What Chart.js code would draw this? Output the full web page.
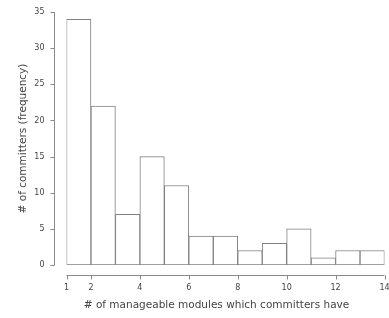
<!DOCTYPE html>
<html>
<head>
<meta charset="utf-8">
<script src="https://cdn.jsdelivr.net/npm/chart.js@4/dist/chart.umd.min.js"></script>
<style>
  html, body { margin: 0; padding: 0; background: #fff; }
  #wrap { width: 389px; height: 318px; }
</style>
</head>
<body>
<div id="wrap"><canvas id="histChart"></canvas></div>
<script>
// histogram bins (left edge of each bin, width 1) and their counts
const binStarts = [1, 2, 3, 4, 5, 6, 7, 8, 9, 10, 11, 12, 13];
const counts = [34, 22, 7, 15, 11, 4, 4, 2, 3, 5, 1, 2, 2];
const xTicks = [1, 2, 4, 6, 8, 10, 12, 14];
const yTicks = [0, 5, 10, 15, 20, 25, 30, 35];
const xTitle = '# of manageable modules which committers have';
const yTitle = '# of committers (frequency)';

const axisColor = '#8a8a8a';
const textColor = '#444';

// R-style axes, detached from the plot region
const detachedAxes = {
    id: 'detachedAxes',
    afterDraw: (chart) => {
        const { ctx, chartArea } = chart;
        const x = chart.scales.x;
        const y = chart.scales.y;
        ctx.save();
        ctx.strokeStyle = axisColor;
        ctx.lineWidth = 1;

        const ax = Math.round(chartArea.left - 13) + 0.5;
        ctx.beginPath();
        ctx.moveTo(ax, y.getPixelForValue(yTicks[0]));
        ctx.lineTo(ax, y.getPixelForValue(yTicks[yTicks.length - 1]));
        yTicks.forEach(v => {
            const py = Math.round(y.getPixelForValue(v)) + 0.5;
            ctx.moveTo(ax, py);
            ctx.lineTo(ax - 4, py);
        });
        ctx.stroke();

        const ay = Math.round(chartArea.bottom + 10) + 0.5;
        ctx.beginPath();
        ctx.moveTo(x.getPixelForValue(xTicks[0]), ay);
        ctx.lineTo(x.getPixelForValue(xTicks[xTicks.length - 1]), ay);
        xTicks.forEach(v => {
            const px = Math.round(x.getPixelForValue(v)) + 0.5;
            ctx.moveTo(px, ay);
            ctx.lineTo(px, ay + 4);
        });
        ctx.stroke();

        // x title sits a little left of the plot centre in the original
        ctx.fillStyle = textColor;
        ctx.font = '10.5px "DejaVu Sans"';
        ctx.textAlign = 'center';
        ctx.textBaseline = 'middle';
        ctx.fillText(xTitle, (chartArea.left + chartArea.right) / 2 - 9, 305);
        ctx.restore();
    }
};

new Chart(document.getElementById('histChart'), {
    type: 'bar',
    plugins: [detachedAxes],
    data: {
        datasets: [{
            data: binStarts.map((s, i) => ({ x: s + 0.5, y: counts[i] })),
            backgroundColor: '#ffffff',
            borderColor: '#808080',
            borderWidth: 1,
            borderSkipped: false,
            barPercentage: 1,
            categoryPercentage: 1
        }]
    },
    options: {
        responsive: true,
        maintainAspectRatio: false,
        animation: false,
        layout: { padding: { top: 12, right: 4.5, bottom: 0, left: 0 } },
        plugins: {
            legend: { display: false },
            tooltip: { enabled: false }
        },
        scales: {
            x: {
                type: 'linear',
                min: 1,
                max: 14,
                offset: false,
                afterBuildTicks: (scale) => { scale.ticks = xTicks.map(v => ({ value: v })); },
                afterFit: (scale) => {
                    scale.height = 53;
                    scale.paddingLeft = 0;
                    scale.paddingRight = 0;
                },
                grid: { display: false, drawTicks: false, offset: false },
                border: { display: false },
                ticks: {
                    autoSkip: false,
                    maxRotation: 0,
                    padding: 18,
                    color: textColor,
                    font: { family: 'DejaVu Sans', size: 8 }
                },
                title: { display: false }
            },
            y: {
                min: 0,
                max: 35,
                afterBuildTicks: (scale) => { scale.ticks = yTicks.map(v => ({ value: v })); },
                afterFit: (scale) => {
                    scale.width = 66.5;
                    scale.paddingTop = 0;
                    scale.paddingBottom = 0;
                },
                grid: { display: false, drawTicks: false },
                border: { display: false },
                ticks: {
                    padding: 22,
                    color: textColor,
                    font: { family: 'DejaVu Sans', size: 8 }
                },
                title: {
                    display: true,
                    text: yTitle,
                    color: textColor,
                    padding: { top: 17, bottom: 0 },
                    font: { family: 'DejaVu Sans', size: 10.5 }
                }
            }
        }
    }
});
</script>
</body>
</html>
